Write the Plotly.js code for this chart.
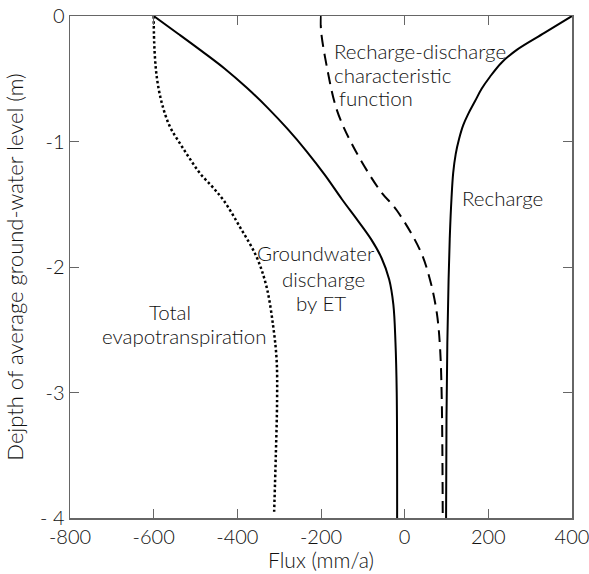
<!DOCTYPE html>
<html>
<head>
<meta charset="utf-8">
<script src="https://cdn.plot.ly/plotly-3.0.1.min.js"></script>
<style>html,body{margin:0;padding:0;background:#fff;}#chart{width:589px;height:574px;}</style>
</head>
<body>
<div id="chart"></div>
<script>
// Recharge (solid, right)
var rechargeFlux  = [400, 334, 268, 232, 204, 184, 168, 152, 140, 130, 122, 116, 112, 108, 105, 102, 100, 99];
var rechargeDepth = [0, -0.135, -0.27, -0.37, -0.484, -0.58, -0.68, -0.78, -0.87, -0.98, -1.1, -1.25, -1.45, -1.75, -2.1, -2.6, -3.2, -4];

// Groundwater discharge by ET (solid, left)
var gwetFlux  = [-600, -540, -485, -430, -378, -328, -280, -234, -190, -150, -112, -80, -55, -37, -27, -22, -19, -18];
var gwetDepth = [0, -0.145, -0.28, -0.42, -0.57, -0.73, -0.9, -1.08, -1.27, -1.46, -1.63, -1.78, -1.93, -2.1, -2.3, -2.6, -3.0, -4];

// Total evapotranspiration (dotted)
var totalEtFlux  = [-600, -598, -592, -580, -561, -537, -515, -489, -460, -433, -394, -354, -330, -314, -306, -305, -308, -312];
var totalEtDepth = [0, -0.27, -0.5, -0.7, -0.883, -1.016, -1.13, -1.255, -1.36, -1.468, -1.68, -1.92, -2.16, -2.48, -2.745, -3.06, -3.5, -3.95];

// Recharge-discharge characteristic function (dashed)
var charFlux  = [-200, -200, -186, -162, -123, -59, -19, 37, 61, 77, 84.5, 88.6, 91];
var charDepth = [0, -0.11, -0.405, -0.75, -1.04, -1.39, -1.548, -1.868, -2.107, -2.37, -2.64, -3.04, -4];

var xTickVals = [-800, -600, -400, -200, 0, 200, 400];
var xTickText = ["-800", "-600", "-400", "-200", "0", "200", "400"];
var yTickVals = [0, -1, -2, -3, -4];
var yTickText = ["0", "-1", "-2", "-3", "- 4"];

var fontFam = "Lato, 'Open Sans', sans-serif";
var txtColor = '#111';

function tr(x, y, dash, w) {
  return {x: x, y: y, type: 'scatter', mode: 'lines',
    line: {color: '#000', width: w, dash: dash, shape: 'spline', smoothing: 1},
    hoverinfo: 'skip', showlegend: false, cliponaxis: false};
}

var data = [
  tr(totalEtFlux, totalEtDepth, '2.5px,2.5px', 2.5),
  tr(gwetFlux, gwetDepth, 'solid', 2),
  tr(charFlux, charDepth, '12px,7px', 2),
  tr(rechargeFlux, rechargeDepth, 'solid', 2)
];

var annFont = {family: fontFam, size: 20.5, color: txtColor, weight: 300};
function ann(text, x, y, anchor) {
  return {x: x, y: y, xref: 'x', yref: 'y', text: text, xanchor: anchor, yanchor: 'middle', showarrow: false, font: annFont};
}
var annotations = [
  ann('Recharge-discharge', -174, -0.277, 'left'),
  ann('characteristic', -174, -0.471, 'left'),
  ann('function', -162, -0.654, 'left'),
  ann('Recharge', 132, -1.452, 'left'),
  ann('Groundwater', -213, -1.891, 'center'),
  ann('discharge', -195, -2.099, 'center'),
  ann('by ET', -201, -2.283, 'center'),
  ann('Total', -561, -2.355, 'center'),
  ann('evapotranspiration', -527, -2.546, 'center')
];

var tickFont = {family: fontFam, size: 20, color: txtColor, weight: 300};

var layout = {
  width: 589, height: 574,
  margin: {l: 70, r: 17, t: 16, b: 56},
  paper_bgcolor: '#fff', plot_bgcolor: '#fff',
  font: {family: fontFam, size: 20, color: txtColor, weight: 300},
  showlegend: false,
  hovermode: false,
  xaxis: {
    range: [-800, 400], tickmode: 'array', tickvals: xTickVals, ticktext: xTickText,
    ticks: 'inside', ticklen: 9, tickwidth: 1, tickcolor: '#666',
    showline: true, linecolor: '#666', linewidth: 1.5, mirror: 'ticks',
    showgrid: false, zeroline: false, automargin: false, ticklabeloverflow: 'allow',
    tickfont: tickFont,
    title: {text: 'Flux (mm/a)', font: {family: fontFam, size: 21, color: txtColor, weight: 300}, standoff: 2}
  },
  yaxis: {
    range: [-4, 0], tickmode: 'array', tickvals: yTickVals, ticktext: yTickText,
    ticks: 'inside', ticklen: 9, tickwidth: 1, tickcolor: '#666',
    showline: true, linecolor: '#666', linewidth: 1.5, mirror: 'ticks',
    showgrid: false, zeroline: false, automargin: false, ticklabeloverflow: 'allow',
    tickfont: tickFont,
    title: {text: 'Dejpth of average ground-water level (m)', font: {family: fontFam, size: 22, color: txtColor, weight: 300}, standoff: 10}
  },
  annotations: annotations
};

Plotly.newPlot('chart', data, layout, {displayModeBar: false, staticPlot: true});
</script>
</body>
</html>
